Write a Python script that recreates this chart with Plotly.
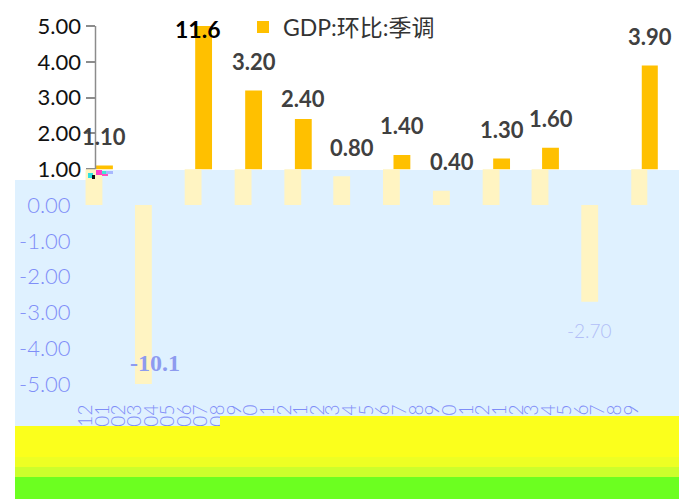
import pandas as pd
import plotly.graph_objects as go

# China GDP, quarter-on-quarter growth, seasonally adjusted (%), by quarter-end month
quarters = ["2019-12", "2020-03", "2020-06", "2020-09", "2020-12", "2021-03",
            "2021-06", "2021-09", "2021-12", "2022-03", "2022-06", "2022-09"]
gdp_qoq = [1.10, -10.1, 11.6, 3.20, 2.40, 0.80, 1.40, 0.40, 1.30, 1.60, -2.70, 3.90]
series_name = "GDP:环比:季调"

# monthly category ticks on the x axis
month_ticks = pd.date_range("2019-12-01", "2022-09-01", freq="MS")
month_labels = [d.strftime("%Y-%m") for d in month_ticks]

y_upper_ticks = [1, 2, 3, 4, 5]
y_lower_ticks = [0, -1, -2, -3, -4, -5]

# ---- styling -------------------------------------------------------------
W, H = 691, 503
Y_MIN, Y_MAX = -5, 5
SPLIT = 1.0            # value where the tinted lower band begins
SHIFT = 10.5           # the lower band is offset to the left by this many px

ORANGE = "#FFC000"
PALE = "#FFF4C2"
BAND_BLUE = "#DFF1FF"
LOWER_TEXT = "#7F8EF8"
DARK_LABEL = "#404040"
AXIS_GREY = "#8C8C8C"

PLOT_L, PLOT_R = 95.5, 657.8     # px
PLOT_T, PLOT_B = 26.0, 384.0     # px


def px_x(p):
    return p / W


def px_y(p):
    return 1 - p / H


def mid_month(m):
    start = pd.Timestamp(m + "-01")
    end = start + pd.offsets.MonthBegin(1)
    return (start + (end - start) / 2).strftime("%Y-%m-%d %H:%M:%S")


# split every bar into the part above SPLIT and the part between 0 and SPLIT
upper_part = [v - SPLIT if v > SPLIT else None for v in gdp_qoq]
lower_part = [min(v, SPLIT) if v > 0 else v for v in gdp_qoq]

bar_width = 31 * 24 * 3600 * 1000  # one month, in ms

fig = go.Figure()
fig.add_trace(go.Bar(
    x=quarters, y=upper_part, base=SPLIT,
    xperiod="M1", xperiodalignment="middle", width=bar_width,
    marker=dict(color=ORANGE, line=dict(width=0)),
    name=series_name, xaxis="x", yaxis="y", hoverinfo="skip",
))
fig.add_trace(go.Bar(
    x=quarters, y=lower_part,
    xperiod="M1", xperiodalignment="middle", width=bar_width,
    marker=dict(color=PALE, line=dict(width=0)),
    showlegend=False, xaxis="x2", yaxis="y2", hoverinfo="skip",
))

# ---- value labels --------------------------------------------------------
label_lift = {"2020-12": 21}
annotations = []
for m, v in zip(quarters, gdp_qoq):
    xm = mid_month(m)
    if v > Y_MAX:
        annotations.append(dict(
            x=xm, y=Y_MAX, xref="x", yref="y", text=f"<b>{v:.1f}</b>",
            showarrow=False, yshift=-3, xshift=-6,
            font=dict(family="Lato", size=23, color="#000000")))
    elif v < Y_MIN:
        annotations.append(dict(
            x=xm, y=Y_MIN, xref="x2", yref="y2", text=f"<b>{v:.1f}</b>",
            showarrow=False, yshift=21, xshift=12,
            font=dict(family="Liberation Serif", size=24, color="#8E9BEF")))
    elif v < 0:
        annotations.append(dict(
            x=xm, y=v, xref="x2", yref="y2", text=f"{v:.2f}",
            showarrow=False, yshift=-29,
            font=dict(family="Lato", size=19, color="#B2BFF7", weight=300)))
    else:
        annotations.append(dict(
            x=xm, y=v, xref="x", yref="y", text=f"<b>{v:.2f}</b>",
            showarrow=False, yshift=label_lift.get(m, 29),
            font=dict(family="Lato", size=22, color=DARK_LABEL)))

# ---- shapes: tinted lower band, axis line, colour bands -----------------
def rect(x0, y0, x1, y1, color, layer="above"):
    return dict(type="rect", xref="paper", yref="paper",
                x0=px_x(x0), x1=px_x(x1), y0=px_y(y1), y1=px_y(y0),
                fillcolor=color, line=dict(width=0), layer=layer)


def poly(points, color, layer):
    d = "M " + " L ".join(f"{px_x(a)},{px_y(b)}" for a, b in points) + " Z"
    return dict(type="path", xref="paper", yref="paper", path=d,
                fillcolor=color, line=dict(width=0), layer=layer)


shapes = [
    poly([(15, 180), (88, 180), (88, 170), (679, 170), (679, 430), (15, 430)],
         BAND_BLUE, "below"),
    dict(type="line", xref="x domain", yref="y", x0=0, x1=0,
         y0=SPLIT, y1=Y_MAX, line=dict(color=AXIS_GREY, width=1.5), layer="above"),
    poly([(15, 426), (220, 426), (220, 416), (679, 416), (679, 457), (15, 457)],
         "#FBFF1C", "above"),
    rect(15, 457, 679, 467, "#EEFF24"),
    rect(15, 467, 679, 477, "#CCFF2C"),
    rect(15, 477, 679, 499, "#6CFF20"),
    # small colour specks at the band edge
    rect(88, 173, 93, 178, "#30E0E0"),
    rect(92, 175, 95, 179, "#101010"),
    rect(96, 170, 102, 175, "#FF40C8"),
    rect(102, 171, 108, 174, "#40E8D0"),
    rect(102, 174, 108, 176, "#FF50C0"),
    rect(106, 171, 113, 174, "#A8B8FF"),
]

fig.update_layout(
    template="none",
    width=W, height=H,
    margin=dict(l=0, r=0, t=0, b=0),
    paper_bgcolor="white",
    plot_bgcolor="rgba(0,0,0,0)",
    barmode="overlay",
    font=dict(family="Lato, Noto Sans CJK SC", size=20, color="#111111"),
    showlegend=True,
    legend=dict(
        x=px_x(243), y=px_y(27), xanchor="left", yanchor="middle",
        bgcolor="rgba(0,0,0,0)", borderwidth=0,
        font=dict(family="Lato, Noto Sans CJK SC", size=23, color="#333333"),
    ),
    xaxis=dict(
        type="date", domain=[px_x(PLOT_L), px_x(PLOT_R)],
        range=["2019-11-30", "2022-09-30"],
        showticklabels=False, ticks="", showgrid=False, zeroline=False,
        showline=False, anchor="y", automargin=False,
    ),
    xaxis2=dict(
        type="date", domain=[px_x(PLOT_L - SHIFT), px_x(PLOT_R - SHIFT)],
        range=["2019-11-30", "2022-09-30"], anchor="y2",
        tickmode="array", tickvals=list(month_ticks), ticktext=month_labels,
        tickangle=-90, tickfont=dict(size=19, color=LOWER_TEXT, weight=300),
        ticks="outside", ticklen=12, tickcolor="rgba(0,0,0,0)",
        showgrid=False, zeroline=False, showline=False, automargin=False,
    ),
    yaxis=dict(
        domain=[px_y(PLOT_B), px_y(PLOT_T)], range=[Y_MIN, Y_MAX],
        tickmode="array", tickvals=y_upper_ticks,
        ticktext=[f"{t:.2f}" for t in y_upper_ticks],
        ticks="outside", ticklen=9, tickwidth=1.5, tickcolor=AXIS_GREY,
        tickfont=dict(size=22, color="#111111"),
        showgrid=False, zeroline=False, showline=False, anchor="x",
        automargin=False,
    ),
    yaxis2=dict(
        overlaying="y", anchor="x2", side="left",
        range=[Y_MIN, Y_MAX],
        tickmode="array", tickvals=y_lower_ticks,
        ticktext=[f"{t:.2f}" for t in y_lower_ticks],
        ticks="outside", ticklen=9, tickcolor="rgba(0,0,0,0)",
        tickfont=dict(size=22, color=LOWER_TEXT, weight=300),
        showgrid=False, zeroline=False, showline=False, automargin=False,
    ),
    annotations=annotations,
    shapes=shapes,
)

fig.write_html("out.html", config={"displayModeBar": False})
